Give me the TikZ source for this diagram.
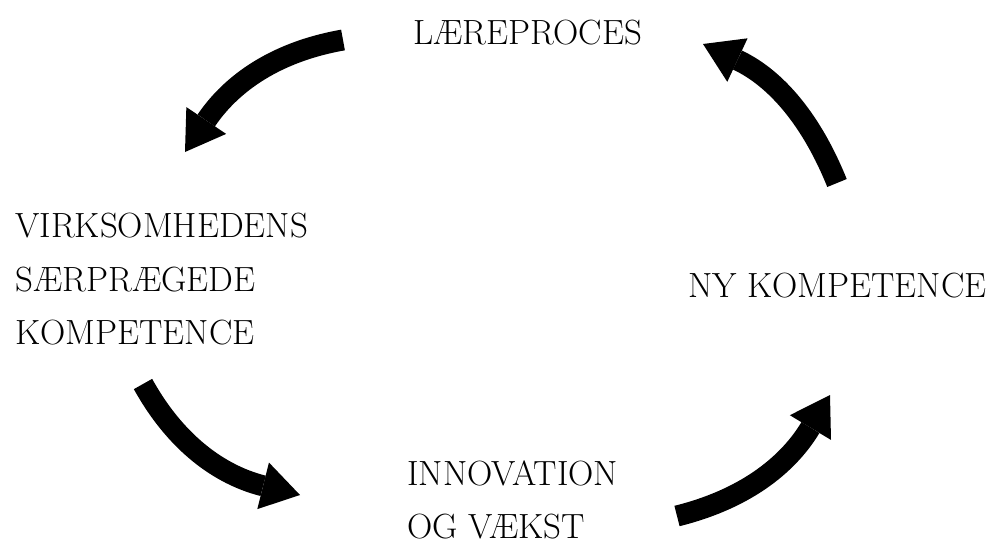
\documentclass[tikz,border=0pt]{standalone}
\usepackage[svgnames]{xcolor}
\usetikzlibrary{arrows.meta}
\colorlet{ink}{Black}

\begin{document}
\begin{tikzpicture}[
  x=0.5pt,y=0.5pt,
  cycle step/.style={inner sep=0pt,anchor=north west,align=left,
    font=\fontsize{17.5}{26.75}\selectfont,text=ink},
  cycle arrow/.style={draw=ink,line width=10.5pt,line cap=butt,
    -{Triangle[length=19pt,width=24pt,line width=0pt]}},
]
\useasboundingbox (0,0) rectangle (992,543);
\node[cycle step] (laering) at (413,523) {LÆREPROCES};
\node[cycle step] (saerpraeg) at (15,330) {VIRKSOMHEDENS\\SÆRPRÆGEDE\\KOMPETENCE};
\node[cycle step] (nykomp) at (688,270) {NY KOMPETENCE};
\node[cycle step] (innovation) at (407,83) {INNOVATION\\[-0.25pt]OG VÆKST};
% arrow ends, tail t and head h
\coordinate (t1) at (343,503); \coordinate (h1) at (185,391);
\coordinate (t2) at (143,159); \coordinate (h2) at (300,48);
\coordinate (t3) at (677,27);  \coordinate (h3) at (830,148);
\coordinate (t4) at (837,360); \coordinate (h4) at (703,499);
\foreach \t/\h/\o/\i in {t1/h1/190/56,t2/h2/299/166,t3/h3/14/239,t4/h4/112/-25}
  \draw[cycle arrow] (\t) to[out=\o,in=\i] (\h);
\end{tikzpicture}
\end{document}
